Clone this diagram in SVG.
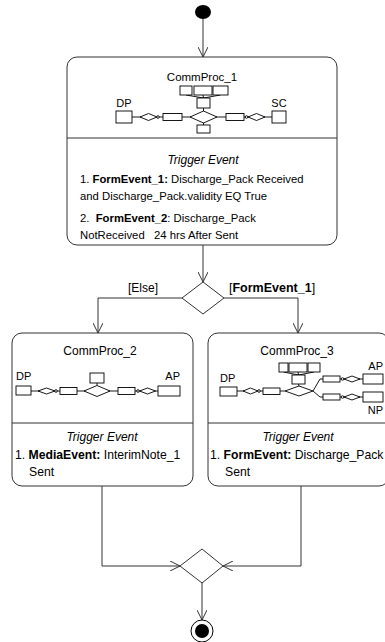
<svg xmlns="http://www.w3.org/2000/svg" width="385" height="642" viewBox="0 0 385 642">
<defs>
<style>
text{font-family:"Liberation Sans",Arial,sans-serif;font-size:11px;fill:#000}
.c{text-anchor:middle}
.e{text-anchor:end}
.i{font-style:italic;font-size:12px}
.b{font-weight:bold}
.l1{font-size:11.3px}
.l2{font-size:12.2px}
.t2{font-size:12px}
.box{fill:#fff;stroke:#333;stroke-width:1}
.ln{fill:none;stroke:#333;stroke-width:1}
.ic{fill:#fff;stroke:#000;stroke-width:0.9}
.icl{fill:none;stroke:#000;stroke-width:0.9}
</style>
<marker id="arr" viewBox="0 0 10 10" refX="10" refY="5" markerWidth="10" markerHeight="10" markerUnits="userSpaceOnUse" orient="auto">
<path d="M0,0 L10,5 L0,10" fill="none" stroke="#333" stroke-width="1"/>
</marker>
</defs>
<rect width="385" height="642" fill="#fff"/>

<g id="connectors">
<line class="ln" x1="203" y1="19" x2="203" y2="57" marker-end="url(#arr)"/>
<line class="ln" x1="203" y1="245" x2="203" y2="282" marker-end="url(#arr)"/>
<polyline class="ln" points="182,298 98,298 98,333" marker-end="url(#arr)"/>
<polyline class="ln" points="224,298 298,298 298,333" marker-end="url(#arr)"/>
<polyline class="ln" points="102,486 102,566 180,566" marker-end="url(#arr)"/>
<polyline class="ln" points="301,486 301,566 223,566" marker-end="url(#arr)"/>
<line class="ln" x1="202" y1="583" x2="202" y2="620" marker-end="url(#arr)"/>
<text x="143" y="292" class="c t2">[Else]</text>
<text x="229" y="292" style="font-size:12.5px">[<tspan class="b">FormEvent_1</tspan>]</text>
</g>

<g id="start">
<ellipse cx="203" cy="12" rx="8" ry="7" fill="#000"/>
</g>

<g id="decision">
<polygon class="box" points="203,282 224,298 203,314 182,298"/>
</g>

<g id="merge">
<polygon class="box" points="202,549 223,566 202,583 180,566"/>
</g>

<g id="end">
<circle cx="202" cy="631" r="11" fill="#fff" stroke="#000" stroke-width="1"/>
<circle cx="202" cy="631" r="7" fill="#000"/>
</g>

<g id="commproc1">
<rect class="box" x="67" y="57" width="270" height="188" rx="10"/>
<line class="ln" x1="67" y1="138" x2="337" y2="138"/>
<text x="202" y="81" class="c" style="font-size:11.5px">CommProc_1</text>
<text x="124" y="107" class="c">DP</text>
<text x="279" y="107" class="c">SC</text>
<line class="icl" x1="132" y1="117" x2="272" y2="117"/>
<line class="icl" x1="186" y1="95" x2="203.5" y2="98"/>
<line class="icl" x1="203" y1="95" x2="203.5" y2="98"/>
<line class="icl" x1="220.5" y1="95" x2="203.5" y2="98"/>
<line class="icl" x1="203.5" y1="108" x2="203.5" y2="125"/>
<rect class="ic" x="116" y="111" width="16" height="12"/>
<polygon class="ic" points="140,117 148.5,113.5 157,117 148.5,120.5"/>
<circle class="ic" cx="158" cy="117" r="1.3"/>
<rect class="ic" x="163" y="113.5" width="19" height="7"/>
<polygon class="ic" points="190,117 203.5,111 217,117 203.5,123"/>
<rect class="ic" x="197" y="98" width="13" height="10"/>
<rect class="ic" x="180" y="86" width="12" height="9"/>
<rect class="ic" x="194" y="86" width="18" height="9"/>
<rect class="ic" x="213" y="86" width="15" height="9"/>
<rect class="ic" x="197" y="125" width="13" height="8"/>
<rect class="ic" x="226" y="113.5" width="18" height="7"/>
<circle class="ic" cx="246.5" cy="117" r="1.3"/>
<polygon class="ic" points="248,117 256.5,113.5 265,117 256.5,120.5"/>
<rect class="ic" x="272" y="111" width="14" height="12"/>
<text x="203" y="164" class="c i">Trigger Event</text>
<text x="80" y="183" class="l1" xml:space="preserve">1. <tspan class="b">FormEvent_1:</tspan> Discharge_Pack Received</text>
<text x="80" y="200" class="l1">and Discharge_Pack.validity EQ True</text>
<text x="80" y="222" class="l1" xml:space="preserve">2.  <tspan class="b">FormEvent_2</tspan>: Discharge_Pack</text>
<text x="80" y="239" class="l1" xml:space="preserve">NotReceived   24 hrs After Sent</text>
</g>

<g id="commproc2">
<rect class="box" x="12" y="333" width="181" height="153" rx="10"/>
<line class="ln" x1="12" y1="423" x2="193" y2="423"/>
<text x="100" y="355" class="c t2">CommProc_2</text>
<text x="16" y="380">DP</text>
<text x="180" y="380" class="e">AP</text>
<line class="icl" x1="31" y1="391" x2="158" y2="391"/>
<line class="icl" x1="97" y1="383" x2="97" y2="385.5"/>
<rect class="ic" x="16" y="386" width="15" height="9"/>
<polygon class="ic" points="38,391 46.5,388 55,391 46.5,394"/>
<circle class="ic" cx="56" cy="391" r="1.3"/>
<rect class="ic" x="60" y="387.5" width="17" height="7"/>
<polygon class="ic" points="84,391 97,385.5 110,391 97,396.5"/>
<rect class="ic" x="90" y="373" width="14" height="10"/>
<rect class="ic" x="118" y="387.5" width="17" height="7"/>
<circle class="ic" cx="138" cy="391" r="1.3"/>
<polygon class="ic" points="139.5,391 147.5,388 155.5,391 147.5,394"/>
<rect class="ic" x="158" y="386" width="22" height="10"/>
<text x="102" y="441" class="c i">Trigger Event</text>
<text x="15" y="459" class="l2">1. <tspan class="b">MediaEvent:</tspan> InterimNote_1</text>
<text x="29" y="476" class="l2">Sent</text>
</g>

<g id="commproc3">
<rect class="box" x="208" y="333" width="181" height="153" rx="10"/>
<line class="ln" x1="208" y1="423" x2="389" y2="423"/>
<text x="297" y="355" class="c t2">CommProc_3</text>
<text x="220" y="382">DP</text>
<text x="383" y="370" class="e">AP</text>
<text x="383" y="414" class="e">NP</text>
<line class="icl" x1="237" y1="391" x2="285" y2="391"/>
<polyline class="icl" points="313,391 320,379 363,379"/>
<polyline class="icl" points="313,391 320,397 363,397"/>
<line class="icl" x1="283.5" y1="372" x2="298.5" y2="375"/>
<line class="icl" x1="298" y1="372" x2="298.5" y2="375"/>
<line class="icl" x1="314" y1="372" x2="298.5" y2="375"/>
<line class="icl" x1="298.5" y1="384" x2="299" y2="386"/>
<rect class="ic" x="220" y="387" width="17" height="9"/>
<polygon class="ic" points="243,391 250.5,388 258,391 250.5,394"/>
<circle class="ic" cx="259" cy="391" r="1.3"/>
<rect class="ic" x="263" y="388" width="17" height="6.5"/>
<polygon class="ic" points="285,391 299,386 313,391 299,396"/>
<rect class="ic" x="292" y="375" width="13" height="9"/>
<rect class="ic" x="279" y="363" width="9" height="9"/>
<rect class="ic" x="289" y="363" width="18" height="9"/>
<rect class="ic" x="308" y="363" width="12" height="9"/>
<rect class="ic" x="323" y="376" width="17" height="6"/>
<circle class="ic" cx="342.5" cy="379" r="1.3"/>
<polygon class="ic" points="344,379 352,376 360,379 352,382"/>
<rect class="ic" x="363" y="374" width="20" height="10"/>
<rect class="ic" x="323" y="394" width="17" height="6"/>
<circle class="ic" cx="342.5" cy="397" r="1.3"/>
<polygon class="ic" points="344,397 352,394 360,397 352,400"/>
<rect class="ic" x="363" y="392" width="20" height="10"/>
<text x="298" y="441" class="c i">Trigger Event</text>
<text x="210" y="459" class="l2">1. <tspan class="b">FormEvent:</tspan> Discharge_Pack</text>
<text x="225" y="476" class="l2">Sent</text>
</g>
</svg>
